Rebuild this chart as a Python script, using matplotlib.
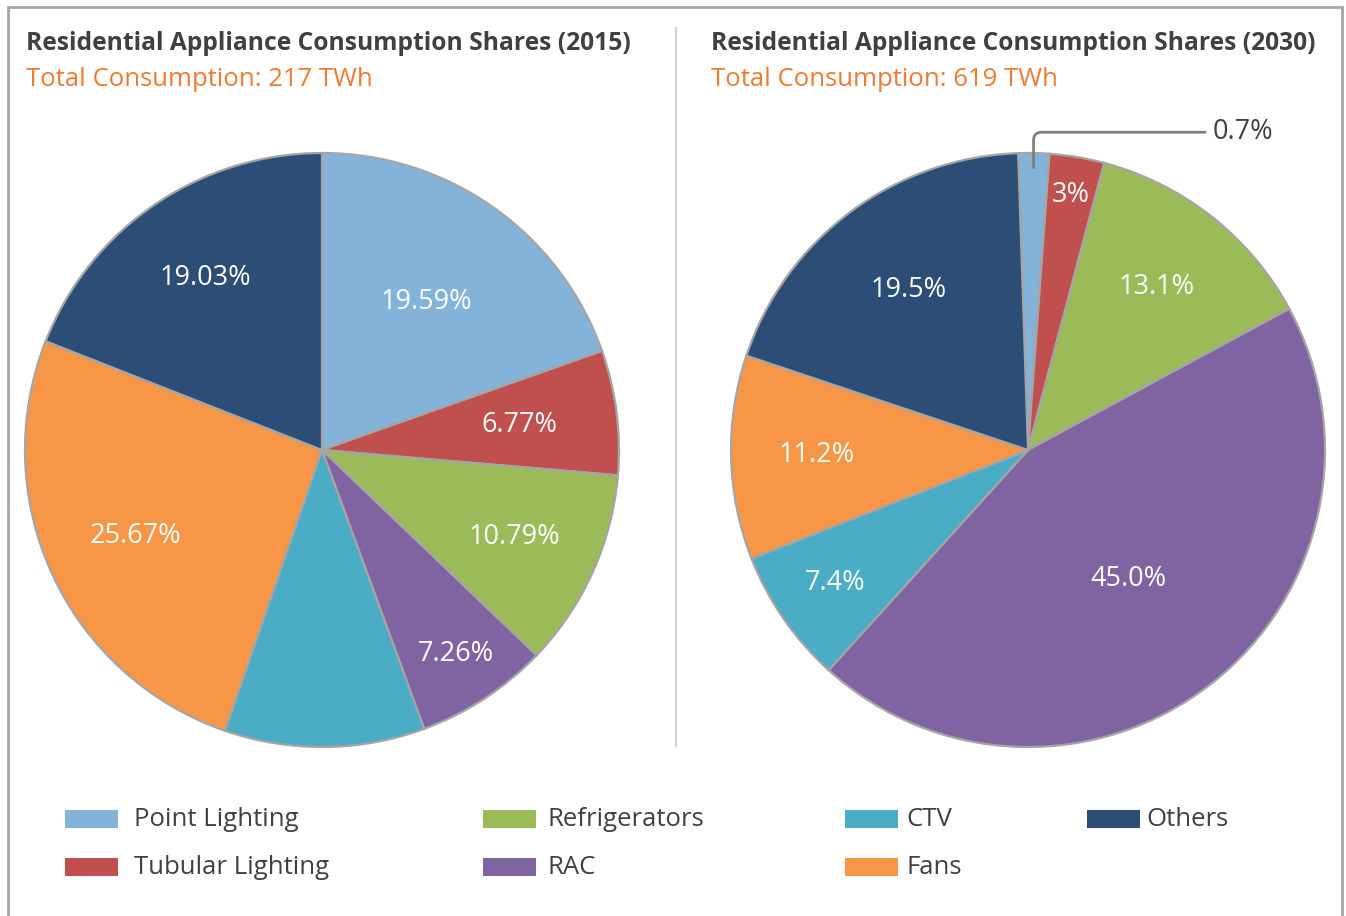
import matplotlib
matplotlib.use("Agg")
import matplotlib.pyplot as plt
from matplotlib.patches import Rectangle
import numpy as np

plt.rcParams['font.family'] = ['Open Sans', 'DejaVu Sans']

categories = ['Point Lighting', 'Tubular Lighting', 'Refrigerators', 'RAC', 'CTV', 'Fans', 'Others']
colors = ['#84B3DA', '#C0504D', '#9BBB59', '#8064A2', '#4BACC6', '#F79646', '#2C4D75']

shares_2015 = [19.59, 6.77, 10.79, 7.26, 10.89, 25.67, 19.03]
labels_2015 = ['19.59%', '6.77%', '10.79%', '7.26%', '', '25.67%', '19.03%']
# point lighting slice is drawn wider than its 0.7% label in the original
shares_2030 = [1.7, 3.0, 13.1, 45.0, 7.4, 11.2, 19.5]
labels_2030 = ['0.7%', '3%', '13.1%', '45.0%', '7.4%', '11.2%', '19.5%']

# label radial positions (fraction of radius), as placed in the original
dist_2015 = [0.61, 0.67, 0.71, 0.82, 0.7, 0.69, 0.70]
dist_2030 = [0.9, 0.87, 0.70, 0.55, 0.79, 0.71, 0.67]

W, H = 1346, 916
fig = plt.figure(figsize=(W / 100, H / 100), dpi=100)

# outer frame
fig.patches.append(Rectangle((8 / W, -0.05), 1334 / W, 1.05 - 7 / H, transform=fig.transFigure,
                             fill=False, edgecolor='#A6A6A6', linewidth=2))
# separator
fig.add_artist(plt.Line2D([676 / W, 676 / W], [1 - 28 / H, 1 - 746 / H], transform=fig.transFigure,
                          color='#D0D0D0', linewidth=1.5))

R = 297


def pie_axes(cx, cy):
    return fig.add_axes([(cx - R) / W, (H - cy - R) / H, 2 * R / W, 2 * R / H])


def draw_pie(ax, vals, labs, dists, start, skip_first=False):
    wedges, _ = ax.pie(vals, colors=colors, startangle=start, counterclock=False, radius=1,
                       wedgeprops=dict(edgecolor='#A5A5A5', linewidth=1.6))
    for i, (w, lab, d) in enumerate(zip(wedges, labs, dists)):
        if not lab or (skip_first and i == 0):
            continue
        ang = np.deg2rad((w.theta1 + w.theta2) / 2)
        ax.text(d * np.cos(ang), d * np.sin(ang), lab, color='white', fontsize=19.5,
                ha='center', va='center')
    ax.set_xlim(-1, 1)
    ax.set_ylim(-1, 1)
    ax.axis('off')
    return wedges


ax1 = pie_axes(322, 450)
draw_pie(ax1, shares_2015, labels_2015, dist_2015, 90)
ax2 = pie_axes(1028, 450)
w2 = draw_pie(ax2, shares_2030, labels_2030, dist_2030, 91.9, skip_first=True)

# small slice callout
mid = np.deg2rad((w2[0].theta1 + w2[0].theta2) / 2)
ax2.annotate(labels_2030[0], xy=(0.95 * np.cos(mid), 0.95 * np.sin(mid)), xytext=(0.62, 1.07),
             ha='left', va='center', fontsize=19.5, color='#404040', annotation_clip=False,
             arrowprops=dict(arrowstyle='-', color='#7F7F7F', lw=2, shrinkA=3, shrinkB=0,
                             connectionstyle='angle,angleA=0,angleB=90,rad=8'))

# titles
for x0, yr, tot in [(26, '2015', 217), (711, '2030', 619)]:
    fig.text(x0 / W, 1 - 43 / H, 'Residential Appliance Consumption Shares (%s)' % yr,
             fontsize=17.7, fontweight='bold', color='#404040', va='center', ha='left')
    fig.text(x0 / W, 1 - 79 / H, 'Total Consumption: %d TWh' % tot,
             fontsize=18.5, color='#F07A32', va='center', ha='left')

# legend
col_x = [65, 483, 845, 1087]
col_tx = [134, 548, 906, 1146]
row_y = [819, 867]
for i, (name, c) in enumerate(zip(categories, colors)):
    col, row = i // 2, i % 2
    fig.patches.append(Rectangle((col_x[col] / W, (H - row_y[row] - 9) / H), 53 / W, 18 / H,
                                 transform=fig.transFigure, facecolor=c, edgecolor='none'))
    fig.text(col_tx[col] / W, 1 - row_y[row] / H, name, fontsize=18.5, color='#404040',
             va='center', ha='left')

fig.savefig('out.png', dpi=100)
